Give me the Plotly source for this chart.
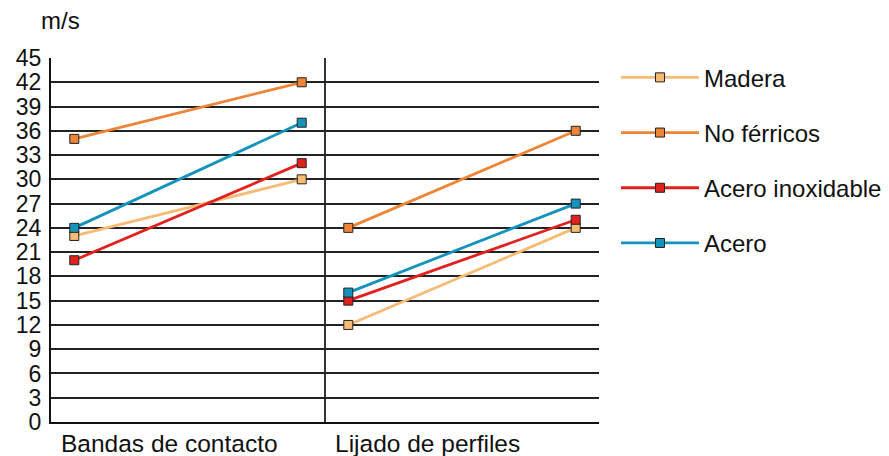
import plotly.graph_objects as go

categories = ["Bandas de contacto", "Lijado de perfiles"]
series_names = ["Madera", "No férricos", "Acero inoxidable", "Acero"]
# values per series: [group1 start, group1 end, group2 start, group2 end]
madera = [23, 30, 12, 24]
no_ferricos = [35, 42, 24, 36]
acero_inox = [20, 32, 15, 25]
acero = [24, 37, 16, 27]
y_ticks = list(range(0, 46, 3))
unit_label = "m/s"

colors = ["#F6BC74", "#EE8536", "#E0211D", "#1493BC"]
FONT = "Liberation Sans, Arial, Helvetica, sans-serif"

# position of start/end points inside each category band (band width = 2)
inner = [0.17, 1.83]

def xs():
    out = []
    for gi in range(len(categories)):
        out += [gi * 2 + inner[0], gi * 2 + inner[1]]
        if gi < len(categories) - 1:
            out.append(None)
    return out

def ys(vals):
    out = []
    for gi in range(len(categories)):
        out += vals[gi * 2: gi * 2 + 2]
        if gi < len(categories) - 1:
            out.append(None)
    return out

fig = go.Figure()
for name, vals, c in zip(series_names, [madera, no_ferricos, acero_inox, acero], colors):
    fig.add_trace(go.Scatter(
        x=xs(), y=ys(vals), name=name, mode="lines+markers",
        legendgroup=name, connectgaps=False,
        line=dict(color=c, width=2.8),
        marker=dict(symbol="square", size=9, color=c, line=dict(color="#222", width=1)),
    ))

# the page body has an 8px offset, so the figure is 8px smaller and margins shifted
fig.update_layout(
    width=881, height=448,
    margin=dict(l=43, r=290, t=50, b=34, autoexpand=False),
    plot_bgcolor="white", paper_bgcolor="white",
    font=dict(family=FONT, size=24, color="#111"),
    showlegend=True,
    legend=dict(x=1.031, y=1.0075, xanchor="left", yanchor="top",
                font=dict(size=24, family=FONT, color="#111"),
                tracegroupgap=21, itemwidth=78, bgcolor="rgba(0,0,0,0)"),
)
fig.update_xaxes(range=[0, 2 * len(categories)], tickvals=[2 * (i + 1) for i in range(len(categories))],
                 ticktext=["" for _ in categories], showgrid=True, gridcolor="#333", gridwidth=1.5,
                 showline=True, linecolor="#111", linewidth=2, ticks="", zeroline=False,
                 fixedrange=True, automargin=False)
fig.update_yaxes(range=[0, 45], tickvals=y_ticks, ticktext=[str(v) for v in y_ticks],
                 showgrid=True, gridcolor="#222", gridwidth=1.5, showline=True, linecolor="#111",
                 linewidth=2, ticks="", ticklabelstandoff=3, zeroline=False, fixedrange=True,
                 automargin=False, tickfont=dict(size=23))

for gi, cat in enumerate(categories):
    fig.add_annotation(x=gi * 2, y=0, xref="x", yref="paper", text=cat,
                       showarrow=False, xanchor="left", yanchor="top", xshift=9, yshift=-7,
                       borderpad=0, font=dict(size=24.5, family=FONT, color="#111"))
fig.add_annotation(x=0.018, y=1.104, xref="paper", yref="paper", text=unit_label, showarrow=False,
                   xanchor="center", yanchor="middle", font=dict(size=24, family=FONT, color="#111"))

fig.write_html("out.html")
